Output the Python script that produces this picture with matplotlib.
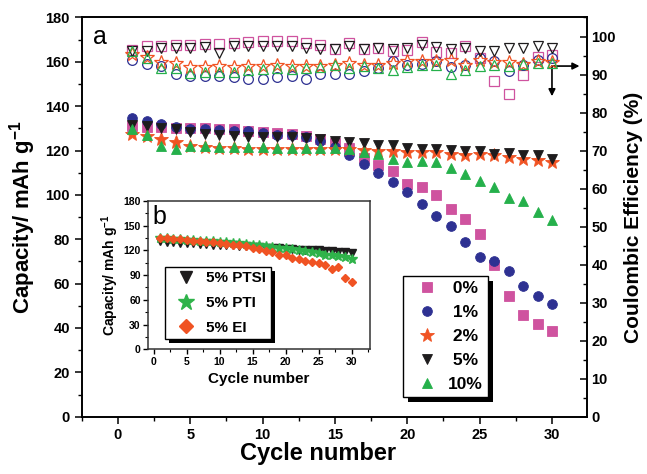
import matplotlib
matplotlib.use('Agg')
import matplotlib.pyplot as plt
from matplotlib.patches import Rectangle
from matplotlib.transforms import IdentityTransform
from matplotlib.ticker import MultipleLocator

plt.rcParams['font.family'] = ['Liberation Sans', 'DejaVu Sans']
plt.rcParams['font.weight'] = 'bold'
plt.rcParams['axes.labelweight'] = 'bold'
plt.rcParams['mathtext.fontset'] = 'custom'
plt.rcParams['mathtext.rm'] = 'Liberation Sans:bold'
plt.rcParams['mathtext.bf'] = 'Liberation Sans:bold'
plt.rcParams['mathtext.default'] = 'bf'

# cycle index
cycles = list(range(1, 31))

# discharge capacity (mAh/g) for each additive content
cap_0 = [131, 130.5, 130.5, 130, 130, 130, 129.5, 129.5, 129, 128.5,
         128, 127.5, 126.5, 125, 123.5, 121, 116.5, 113.5, 111, 105,
         103.5, 100, 93.5, 89, 82.5, 68.5, 54.5, 46, 42, 38.5]
cap_1 = [134.5, 133.3, 132, 130.6, 129.6, 129.9, 129.4, 129, 128.7, 128.1,
         127.2, 127.2, 126.1, 124.2, 121.5, 117.8, 114, 109.8, 105.8, 101.5,
         96, 90.3, 86, 78.7, 72.2, 70, 65.8, 58.8, 54.3, 50.8]
cap_2 = [127.5, 126.5, 125, 124, 122, 121.5, 121, 121, 120.5, 120.5,
         120.5, 120.5, 120.5, 120.5, 120.5, 120.5, 120.2, 120, 119.8, 119.4,
         119.4, 119.4, 118.6, 117.9, 118.3, 117.9, 117.1, 116.4, 115.6, 114.9]
cap_5 = [131.5, 131.2, 130, 129.7, 128.5, 127.5, 127, 126.5, 126, 126,
         126, 126, 125.5, 125.2, 124.2, 123.9, 123.6, 122.7, 122.4, 121.2,
         120.9, 120.9, 120.4, 119.8, 119.7, 118.5, 118.9, 118.2, 117.9, 116.4]
cap_10 = [129.5, 127, 122, 120.5, 122, 122, 121.5, 121.5, 121.5, 121.5,
          121, 121, 121, 121, 121, 120.8, 119.4, 118.6, 116.2, 115,
          115.2, 115, 112, 109.3, 106.3, 103.6, 98.8, 97.3, 92.1, 88.6]

# coulombic efficiency (%)
ce_0 = [96.5, 97.4, 97.6, 97.8, 97.8, 98.1, 98.1, 98.4, 98.5, 98.7,
        98.7, 98.7, 98.2, 97.8, 96.8, 98.3, 96.8, 97.0, 96.1, 96.5,
        98.5, 95.9, 95.7, 97.4, 94.4, 88.3, 84.8, 90.0, 94.6, 95.2]
ce_1 = [93.7, 92.8, 92.2, 90.2, 89.6, 89.6, 89.6, 89.3, 88.9, 88.9,
        89.3, 89.6, 88.9, 90.2, 90.2, 90.2, 90.9, 91.7, 93.5, 92.6,
        92.8, 93.5, 91.9, 92.6, 94.4, 93.5, 91.0, 92.6, 93.9, 94.4]
ce_2 = [95.5, 94.5, 93.3, 93.0, 91.9, 91.9, 92.2, 91.9, 92.2, 92.2,
        92.6, 92.2, 92.2, 92.2, 92.6, 93.0, 92.6, 92.6, 93.0, 93.5,
        93.5, 93.5, 93.7, 92.6, 93.9, 93.3, 93.3, 92.8, 93.5, 93.3]
ce_5 = [96.1, 96.1, 97.0, 97.0, 97.0, 97.2, 95.7, 97.4, 97.6, 97.6,
        97.6, 97.6, 97.0, 96.8, 96.8, 97.4, 96.7, 97.0, 96.7, 97.0,
        97.8, 97.2, 96.8, 97.1, 96.3, 96.3, 97.1, 97.1, 97.6, 97.0]
ce_10 = [96.3, 94.4, 91.7, 91.7, 90.4, 90.6, 90.6, 90.6, 91.3, 91.5,
         91.7, 91.5, 91.7, 91.9, 92.4, 91.7, 92.2, 91.7, 91.3, 91.9,
         92.4, 92.6, 90.2, 91.3, 92.2, 92.6, 92.2, 92.8, 93.0, 93.0]

# inset: 5% of the different salts
cap_ptsi = [131, 130.5, 130, 129.5, 129, 128.5, 128, 127.5, 127, 126.5,
            126, 126, 125.5, 125, 124.5, 124, 123.5, 123, 122.5, 122,
            121.5, 121, 120.5, 120.5, 120, 119.5, 119, 118.5, 118, 117]
cap_pti = [135, 134.5, 134, 133.5, 133, 132.5, 132, 131.5, 131, 130.5,
           130, 129.5, 128.5, 127.5, 127, 126, 125, 124, 123, 122.5,
           121.5, 120.5, 119.5, 118.5, 117, 115, 114, 113, 111.5, 110]
cap_ei = [135, 134.5, 134, 133.5, 133, 132, 131.5, 130.5, 130, 129,
          128, 127, 126, 125, 123.5, 122, 119.5, 117.5, 115, 114,
          111, 110, 107.5, 105.5, 104.5, 102, 98, 99.5, 86, 82]

labels = [' 0%', ' 1%', ' 2%', ' 5%', '10%']
colors = ['#cf539f', '#2e3192', '#f05323', '#1e1c1d', '#25b04b']
markers = ['s', 'o', '*', 'v', '^']
msizes = [6.5, 7, 10, 7.5, 7.5]


def add_shadow(ax, leg, dx=5, dy=5):
    # solid black drop shadow behind a legend frame
    fig = ax.figure
    fig.canvas.draw()
    bb = leg.get_window_extent()
    r = Rectangle((bb.x0 + dx, bb.y0 - dy), bb.width, bb.height,
                  transform=IdentityTransform(), facecolor='black',
                  edgecolor='none', zorder=leg.get_zorder() - 0.5)
    ax.add_artist(r)


def bold_ticks(a):
    for lab in a.get_xticklabels() + a.get_yticklabels():
        lab.set_fontweight('bold')


fig = plt.figure(figsize=(6.47, 4.74), dpi=100)
ax = fig.add_axes([0.1263, 0.1209, 0.7805, 0.8422])
ax2 = ax.twinx()

caps = [cap_0, cap_1, cap_2, cap_5, cap_10]
ces = [ce_0, ce_1, ce_2, ce_5, ce_10]
for cap, ce, lab, c, m, ms in zip(caps, ces, labels, colors, markers, msizes):
    ax.plot(cycles, cap, ls='none', marker=m, ms=ms, color=c, mec=c,
            mew=0.6, label=lab)
    ax2.plot(cycles, ce, ls='none', marker=m, ms=ms, mfc='none', mec=c,
             mew=0.9)

ax.set_xlim(-2.5, 32.4)
ax.set_ylim(0, 180)
ax2.set_ylim(0, 105)

ax.xaxis.set_major_locator(MultipleLocator(5))
ax.xaxis.set_minor_locator(MultipleLocator(2.5))
ax.yaxis.set_major_locator(MultipleLocator(20))
ax.yaxis.set_minor_locator(MultipleLocator(10))
ax2.yaxis.set_major_locator(MultipleLocator(10))
ax2.yaxis.set_minor_locator(MultipleLocator(5))

ax.tick_params(axis='x', which='both', direction='out', top=False, labelsize=10.5)
ax.tick_params(axis='y', which='both', direction='out', labelsize=10.5)
ax2.tick_params(axis='y', which='both', direction='in', labelsize=10.5)
for a in (ax, ax2):
    a.tick_params(which='major', length=5, width=1.1)
    a.tick_params(which='minor', length=3, width=1.0)
    for s in a.spines.values():
        s.set_linewidth(1.2)
    bold_ticks(a)

ax.set_xlabel('Cycle number', fontsize=17)
ax.xaxis.set_label_coords(0.468, -0.063)
ax.set_ylabel('Capacity/ mAh g$^{-1}$', fontsize=16, labelpad=5)
ax2.set_ylabel('Coulombic Efficiency (%)', fontsize=15, labelpad=6)

ax.text(0.022, 0.95, 'a', transform=ax.transAxes, fontsize=18,
        fontweight='normal', ha='left', va='center')

# arrows pointing the CE series to the right axis
ax.annotate('', xy=(31.9, 158.1), xytext=(30.0, 158.1),
            arrowprops=dict(arrowstyle='-|>', color='k', lw=1.2,
                            shrinkA=0, shrinkB=0, mutation_scale=10))
ax.annotate('', xy=(30.0, 144.5), xytext=(30.0, 158.1),
            arrowprops=dict(arrowstyle='-|>', color='k', lw=1.2,
                            shrinkA=0, shrinkB=0, mutation_scale=10))

leg = ax.legend(loc='upper left', bbox_to_anchor=(0.6356, 0.3525),
                borderaxespad=0, frameon=True, fancybox=False,
                edgecolor='black', framealpha=1, fontsize=12.5,
                handlelength=2.2, handletextpad=0.1, labelspacing=0.5,
                borderpad=0.3)
leg.get_frame().set_linewidth(1.0)
leg.set_zorder(10)

# inset: capacity for 5% of each salt
axi = fig.add_axes([0.2292, 0.2631, 0.3427, 0.3129])
axi.plot(cycles, cap_ptsi, ls='none', marker='v', ms=5.5, color='#1e1c1d',
         label='5% PTSI')
axi.plot(cycles, cap_pti, ls='-', lw=0.8, color='#2fb34a')
axi.plot(cycles, cap_pti, ls='none', marker='*', ms=7, color='#2fb34a',
         label='5% PTI')
axi.plot(cycles, cap_ei, ls='none', marker='D', ms=4, color='#f05323',
         label='5% EI')
axi.set_xlim(-0.8, 32.8)
axi.set_ylim(0, 180)
axi.xaxis.set_major_locator(MultipleLocator(5))
axi.xaxis.set_minor_locator(MultipleLocator(2.5))
axi.yaxis.set_major_locator(MultipleLocator(30))
axi.yaxis.set_minor_locator(MultipleLocator(15))
axi.tick_params(which='both', direction='out', top=False, right=False,
                labelsize=7.5, pad=2)
axi.tick_params(which='major', length=3.5, width=1.0)
axi.tick_params(which='minor', length=2, width=0.8)
for s in axi.spines.values():
    s.set_linewidth(1.1)
    s.set_color('#333333')
bold_ticks(axi)
axi.set_xlabel('Cycle number', fontsize=11, labelpad=4)
axi.set_ylabel('Capacity/ mAh g$^{-1}$', fontsize=10, labelpad=2)
axi.text(0.02, 0.89, 'b', transform=axi.transAxes, fontsize=18,
         fontweight='normal', ha='left', va='center')

legi = axi.legend(loc='upper left', bbox_to_anchor=(0.075, 0.557),
                  borderaxespad=0, frameon=True, fancybox=False,
                  edgecolor='black', framealpha=1, fontsize=11,
                  handlelength=2.2, handletextpad=0.2, labelspacing=0.7,
                  borderpad=0.3, markerscale=1.7)
legi.get_frame().set_linewidth(1.0)
legi.set_zorder(10)

add_shadow(ax, leg, 5, 5)
add_shadow(axi, legi, 4, 4)

fig.savefig('out.png', dpi=100)
